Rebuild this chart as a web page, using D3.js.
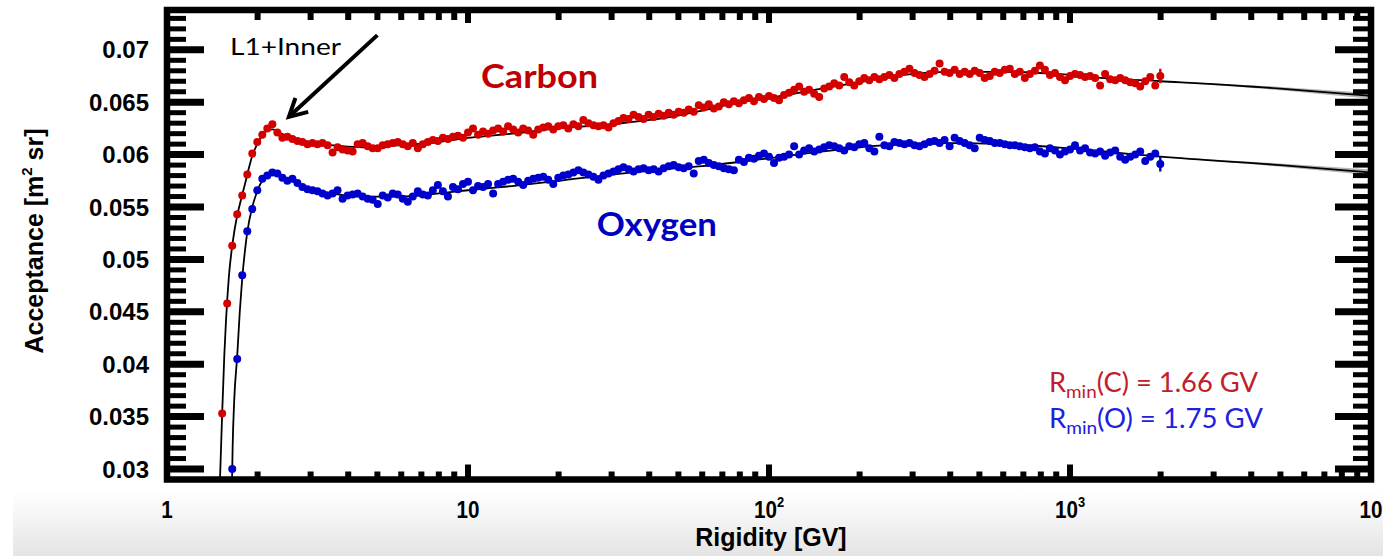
<!DOCTYPE html>
<html><head><meta charset="utf-8">
<script src="https://cdn.jsdelivr.net/npm/d3@7"></script>
<style>html,body{margin:0;padding:0;background:#fff;}svg{display:block;}</style>
</head><body>
<svg id="chart" width="1383" height="556"></svg>
<script>
// ---- data ----
const rigidity = [1.525,1.585,1.647,1.711,1.778,1.848,1.920,1.995,2.073,2.154,2.239,2.326,2.417,2.512,2.610,2.712,2.818,2.929,3.043,3.162,3.286,3.415,3.548,3.687,3.831,3.981,4.137,4.299,4.467,4.642,4.823,5.012,5.208,5.412,5.623,5.843,6.072,6.310,6.556,6.813,7.079,7.356,7.644,7.943,8.254,8.577,8.913,9.261,9.624,
10.00,10.39,10.80,11.22,11.66,12.12,12.59,13.08,13.59,14.13,14.68,15.25,15.85,16.47,17.11,17.78,18.48,19.20,19.95,20.73,21.54,22.39,23.26,24.17,25.12,26.10,27.12,28.18,29.29,30.43,31.62,32.86,34.15,35.48,36.87,38.31,39.81,41.37,42.99,44.67,46.42,48.23,50.12,52.08,54.12,56.23,58.43,60.72,63.10,65.56,68.13,70.79,73.56,76.44,79.43,82.54,85.77,89.13,92.61,96.24,
100.0,103.9,108.0,112.2,116.6,121.2,125.9,130.8,135.9,141.3,146.8,152.5,158.5,164.7,171.1,177.8,184.8,192.0,199.5,207.3,215.4,223.9,232.6,241.7,251.2,261.0,271.2,281.8,292.9,304.3,316.2,328.6,341.5,354.8,368.7,383.1,398.1,413.7,429.9,446.7,464.2,482.3,501.2,520.8,541.2,562.3,584.3,607.2,631.0,655.6,681.3,707.9,735.6,764.4,794.3,825.4,857.7,891.3,926.1,962.4,
1000,1039,1080,1122,1166,1212,1259,1308,1359,1413,1468,1525,1585,1647,1711,1778,1848,1920,1995];

const carbon = [0.0353,0.0458,0.0513,0.0543,0.0561,0.0581,0.0601,0.0612,0.0619,0.0625,0.0629,0.0621,0.0616,0.0617,0.0615,0.0613,0.0612,0.0610,0.0611,0.0610,0.0611,0.0609,0.0602,0.0607,0.0605,0.0604,0.0603,0.0610,0.0611,0.0608,0.0606,0.0606,0.0609,0.0610,0.0611,0.0612,0.0610,0.0608,0.0611,0.0606,0.0610,0.0612,0.0614,0.0613,0.0616,0.0615,0.0617,0.0618,0.0616,
0.0621,0.0625,0.0619,0.0622,0.0620,0.0623,0.0625,0.0622,0.0627,0.0624,0.0621,0.0625,0.0623,0.0619,0.0624,0.0626,0.0627,0.0624,0.0627,0.0628,0.0625,0.0629,0.0627,0.0633,0.0630,0.0628,0.0627,0.0628,0.0626,0.0630,0.0632,0.0635,0.0634,0.0638,0.0636,0.0634,0.0638,0.0636,0.0639,0.0637,0.0640,0.0638,0.0641,0.0640,0.0643,0.0641,0.0647,0.0645,0.0648,0.0644,0.0646,0.0650,0.0648,0.0651,0.0649,0.0652,0.0654,0.0651,0.0655,0.0653,
0.0656,0.0654,0.0652,0.0657,0.0659,0.0662,0.0665,0.0660,0.0662,0.0658,0.0655,0.0663,0.0665,0.0668,0.0666,0.0674,0.0669,0.0666,0.0670,0.0673,0.0671,0.0674,0.0672,0.0674,0.0676,0.0673,0.0677,0.0679,0.0682,0.0678,0.0676,0.0674,0.0677,0.0680,0.0687,0.0679,0.0678,0.0681,0.0677,0.0679,0.0677,0.0680,0.0678,0.0673,0.0675,0.0679,0.0678,0.0681,0.0682,0.0677,0.0679,0.0673,0.0677,0.0680,0.0685,0.0681,0.0676,0.0678,0.0674,0.0671,
0.0675,0.0677,0.0676,0.0674,0.0675,0.0673,0.0666,0.0677,0.0672,0.0671,0.0673,0.0671,0.0669,0.0668,0.0665,0.0670,0.0674,0.0666,0.0675];

const oxygen = [null,null,0.0300,0.0405,0.0485,0.0527,0.0548,0.0566,0.0577,0.0580,0.0583,0.0582,0.0578,0.0575,0.0577,0.0573,0.0569,0.0567,0.0566,0.0565,0.0563,0.0561,0.0563,0.0566,0.0558,0.0561,0.0562,0.0563,0.0560,0.0558,0.0557,0.0553,0.0561,0.0559,0.0563,0.0562,0.0558,0.0555,0.0560,0.0565,0.0562,0.0561,0.0566,0.0571,0.0565,0.0560,0.0569,0.0567,0.0572,
0.0574,0.0566,0.0570,0.0569,0.0572,0.0563,0.0572,0.0574,0.0576,0.0577,0.0574,0.0571,0.0575,0.0577,0.0578,0.0579,0.0576,0.0572,0.0578,0.0580,0.0581,0.0583,0.0585,0.0583,0.0581,0.0579,0.0576,0.0580,0.0582,0.0584,0.0586,0.0588,0.0586,0.0584,0.0586,0.0587,0.0585,0.0586,0.0584,0.0587,0.0589,0.0590,0.0588,0.0587,0.0589,0.0582,0.0594,0.0595,0.0592,0.0590,0.0589,0.0587,0.0586,0.0585,0.0595,0.0593,0.0597,0.0596,0.0599,0.0601,
0.0598,0.0592,0.0597,0.0598,0.0600,0.0608,0.0600,0.0604,0.0606,0.0603,0.0605,0.0607,0.0609,0.0608,0.0606,0.0604,0.0608,0.0607,0.0610,0.0611,0.0606,0.0603,0.0617,0.0609,0.0608,0.0612,0.0611,0.0610,0.0611,0.0609,0.0608,0.0610,0.0612,0.0613,0.0611,0.0614,0.0608,0.0616,0.0613,0.0611,0.0609,0.0606,0.0616,0.0614,0.0613,0.0611,0.0611,0.0610,0.0609,0.0609,0.0608,0.0607,0.0606,0.0607,0.0603,0.0601,0.0606,0.0604,0.0600,0.0603,
0.0605,0.0609,0.0604,0.0606,0.0602,0.0601,0.0603,0.0599,0.0602,0.0604,0.0598,0.0595,0.0598,0.0600,0.0603,0.0594,0.0598,0.0601,0.0591];

// error bars (only visible on the last bin)
const errRigidity = [1995];
const carbonErr = [0.0007];
const oxygenErr = [0.0007];

// fitted acceptance curves with uncertainty band
const fitRigidityC = [1.500,1.525,1.550,1.570,1.606,1.656,1.708,1.761,1.816,1.870,1.920,1.995,2.07,2.15,2.25,2.40,2.60,3.0,3.5,4.5,6,8,10,14,20,30,45,60,80,110,150,200,280,400,600,900,1300,2000,5000,10000];
const fitCarbon    = [0.0290,0.0353,0.0408,0.0441,0.0484,0.0518,0.0541,0.0557,0.0572,0.0587,0.0599,0.0610,0.0618,0.0623,0.0624,0.0620,0.0616,0.0612,0.0609,0.0607,0.0609,0.0612,0.0616,0.0620,0.0625,0.0629,0.0635,0.0642,0.0650,0.0656,0.0663,0.0669,0.0676,0.0679,0.0679,0.0677,0.0673,0.0670,0.0663,0.0656];
const fitErrC      = [0,0,0,0,0,0,0,0,0,0,0,0,0,0,0,0,0,0,0,0,0,0,0,0,0,0,0,0,0,0,0,0,0,0,0,0,0,0.00003,0.00016,0.00028];
const fitRigidityO = [1.645,1.652,1.672,1.711,1.745,1.778,1.815,1.848,1.92,1.995,2.07,2.15,2.25,2.40,2.60,3.0,3.5,4.5,6,8,10,14,20,30,45,60,80,110,150,200,280,400,600,900,1300,2000,5000,10000];
const fitOxygen    = [0.0290,0.0320,0.0365,0.0408,0.0450,0.0482,0.0508,0.0526,0.0550,0.0565,0.0575,0.0580,0.0582,0.0580,0.0575,0.0568,0.0563,0.0560,0.0560,0.0563,0.0566,0.0570,0.0575,0.0581,0.0586,0.0589,0.0593,0.0598,0.0603,0.0607,0.0610,0.0611,0.0610,0.0607,0.0603,0.0598,0.0590,0.0583];
const fitErrO      = [0,0,0,0,0,0,0,0,0,0,0,0,0,0,0,0,0,0,0,0,0,0,0,0,0,0,0,0,0,0,0,0,0,0,0,0.00003,0.00016,0.00028];

const yMajorTicks = [0.03,0.035,0.04,0.045,0.05,0.055,0.06,0.065,0.07];
const yTickLabels = ["0.03","0.035","0.04","0.045","0.05","0.055","0.06","0.065","0.07"];
const xMajorTicks = [1,10,100,1000,10000];
const xTickBase   = ["1","10","10","10","10"];
const xTickExp    = ["","","2","3",""];

// ---- layout ----
const svg = d3.select("#chart");
const x = d3.scaleLog().domain([1,1e4]).range([167,1371]);
const y = d3.scaleLinear().domain([0.029,0.0738]).range([479.5,10]);
const RED = "#d30000", BLUE = "#0000cc";

const defs = svg.append("defs");
const g1 = defs.append("linearGradient").attr("id","bgGrad").attr("x1",0).attr("y1",0).attr("x2",0).attr("y2",1);
g1.append("stop").attr("offset","0").attr("stop-color","#ffffff");
g1.append("stop").attr("offset","1").attr("stop-color","#e4e4e4");
svg.append("rect").attr("x",13).attr("y",492).attr("width",1370).attr("height",64).attr("fill","url(#bgGrad)");

defs.append("clipPath").attr("id","plotClip").append("rect")
  .attr("x",x(1)).attr("y",y(0.0738)).attr("width",x(1e4)-x(1)).attr("height",y(0.029)-y(0.0738));

const plot = svg.append("g").attr("clip-path","url(#plotClip)");

function fitData(R,V,E){ return R.map((r,i)=>({r,v:V[i],e:E[i]})); }
const fits = [
  {d:fitData(fitRigidityC,fitCarbon,fitErrC)},
  {d:fitData(fitRigidityO,fitOxygen,fitErrO)}
];
const area = d3.area().x(d=>x(d.r)).y0(d=>y(d.v-d.e)).y1(d=>y(d.v+d.e)).curve(d3.curveMonotoneX);
const line = d3.line().x(d=>x(d.r)).y(d=>y(d.v)).curve(d3.curveMonotoneX);
fits.forEach(f=>{
  plot.append("path").attr("d",area(f.d.filter(p=>p.r>=1995))).attr("fill","#a8a8a8").attr("opacity",0.85);
  plot.append("path").attr("d",line(f.d)).attr("fill","none").attr("stroke","#000").attr("stroke-width",1.8);
});

errRigidity.forEach((r,i)=>{
  const ic = rigidity.indexOf(r);
  [[carbon[ic],carbonErr[i],RED],[oxygen[ic],oxygenErr[i],BLUE]].forEach(([v,e,c])=>{
    plot.append("line").attr("x1",x(r)).attr("x2",x(r)).attr("y1",y(v-e)).attr("y2",y(v+e))
      .attr("stroke",c).attr("stroke-width",2.4);
  });
});

const series = [{vals:carbon,color:RED},{vals:oxygen,color:BLUE}];
series.forEach(s=>{
  plot.append("g").selectAll("circle")
    .data(rigidity.map((r,i)=>({r,v:s.vals[i]})).filter(d=>d.v!==null))
    .join("circle").attr("cx",d=>x(d.r)).attr("cy",d=>y(d.v)).attr("r",4).attr("fill",s.color);
});

// ---- frame & ticks ----
const X0=x(1), X1=x(1e4), Y0=y(0.0738), Y1=y(0.029);
const ax = svg.append("g").attr("stroke","#000");
for(let k=29;k<=73;k++){
  const v=k/1000, major=(k%5===0), yy=y(v);
  ax.append("line").attr("x1",X0).attr("x2",X0+(major?37:19)).attr("y1",yy).attr("y2",yy).attr("stroke-width",major?7:5);
  ax.append("line").attr("x1",X1).attr("x2",X1-(major?36:18)).attr("y1",yy).attr("y2",yy).attr("stroke-width",major?7:5);
}
for(let d=1; d<1e4; d*=10){
  for(let m=1;m<=9;m++){
    const v=d*m; if(v===1) continue;
    const xx=x(v), major=(m===1);
    ax.append("line").attr("x1",xx).attr("x2",xx).attr("y1",Y1).attr("y2",Y1-(major?15:8)).attr("stroke-width",6);
    ax.append("line").attr("x1",xx).attr("x2",xx).attr("y1",Y0).attr("y2",Y0+(major?13:10)).attr("stroke-width",6);
  }
}
svg.append("rect").attr("x",X0).attr("y",Y0).attr("width",X1-X0).attr("height",Y1-Y0)
  .attr("fill","none").attr("stroke","#000").attr("stroke-width",6.5);

const FONT = "'Liberation Sans', Arial, Helvetica, sans-serif";
yMajorTicks.forEach((v,i)=>{
  svg.append("text").attr("x",149).attr("y",y(v)+8.5).attr("text-anchor","end")
    .attr("font-family",FONT).attr("font-weight","bold").attr("font-size",24).attr("fill","#000")
    .text(yTickLabels[i]);
});
xMajorTicks.forEach((v,i)=>{
  const t = svg.append("text").attr("transform",`translate(${x(v)},518) scale(0.86,1)`)
    .attr("text-anchor","middle").attr("font-family",FONT).attr("font-weight","bold").attr("font-size",24).attr("fill","#000");
  t.append("tspan").text(xTickBase[i]);
  if(xTickExp[i]) t.append("tspan").attr("font-size",15).attr("dy",-11).text(xTickExp[i]);
});
svg.append("text").attr("x",(x(1)+x(1e4))/2+2).attr("y",546).attr("text-anchor","middle")
  .attr("font-family",FONT).attr("font-weight","bold").attr("font-size",25).attr("fill","#000").text("Rigidity [GV]");
const yl = svg.append("text").attr("transform","translate(43,241) rotate(-90)").attr("text-anchor","middle")
  .attr("font-family",FONT).attr("font-weight","bold").attr("font-size",25).attr("fill","#000");
yl.append("tspan").text("Acceptance [m");
yl.append("tspan").attr("font-size",15).attr("dy",-11).text("2");
yl.append("tspan").attr("dy",11).text(" sr]");

// ---- annotations ----
const CAL = "Lato, 'Open Sans', sans-serif";
svg.append("text").attr("x",x(1.619)).attr("y",y(0.06952)).attr("font-family",CAL).attr("font-size",24)
  .attr("textLength",111).attr("lengthAdjust","spacingAndGlyphs").attr("fill","#000").text("L1+Inner");
const aFrom=[x(5.0),y(0.0714)], aTo=[x(2.54),y(0.0636)];
const ang=Math.atan2(aFrom[1]-aTo[1],aFrom[0]-aTo[0]), hl=20, ha=0.49;
svg.append("line").attr("x1",aFrom[0]).attr("y1",aFrom[1]).attr("x2",aTo[0]+2*Math.cos(ang)).attr("y2",aTo[1]+2*Math.sin(ang))
  .attr("stroke","#000").attr("stroke-width",4);
svg.append("path").attr("d",`M${aTo[0]+hl*Math.cos(ang+ha)},${aTo[1]+hl*Math.sin(ang+ha)} L${aTo[0]},${aTo[1]} L${aTo[0]+hl*Math.cos(ang-ha)},${aTo[1]+hl*Math.sin(ang-ha)}`)
  .attr("fill","none").attr("stroke","#000").attr("stroke-width",4).attr("stroke-linejoin","miter");

svg.append("text").attr("x",x(11.05)).attr("y",y(0.06632)).attr("font-family",CAL).attr("font-weight","bold")
  .attr("font-size",32).attr("textLength",117).attr("lengthAdjust","spacingAndGlyphs").attr("fill","#c00000").text("Carbon");
svg.append("text").attr("x",x(26.8)).attr("y",y(0.0522)).attr("font-family",CAL).attr("font-weight","bold")
  .attr("font-size",32).attr("textLength",120).attr("lengthAdjust","spacingAndGlyphs").attr("fill","#0000c0").text("Oxygen");

function rmin(R,A,label,color,len){
  const t=svg.append("text").attr("x",x(R)).attr("y",y(A)).attr("font-family",CAL).attr("font-size",26).attr("fill",color)
    .attr("textLength",len).attr("lengthAdjust","spacingAndGlyphs");
  t.append("tspan").text("R");
  t.append("tspan").attr("font-size",18).attr("dy",6).text("min");
  t.append("tspan").attr("dy",-6).text(label);
}
rmin(851,0.03735,"(C) = 1.66 GV","#c0202a",209);
rmin(851,0.03391,"(O) = 1.75 GV","#2020e0",214);
</script>
</body></html>
